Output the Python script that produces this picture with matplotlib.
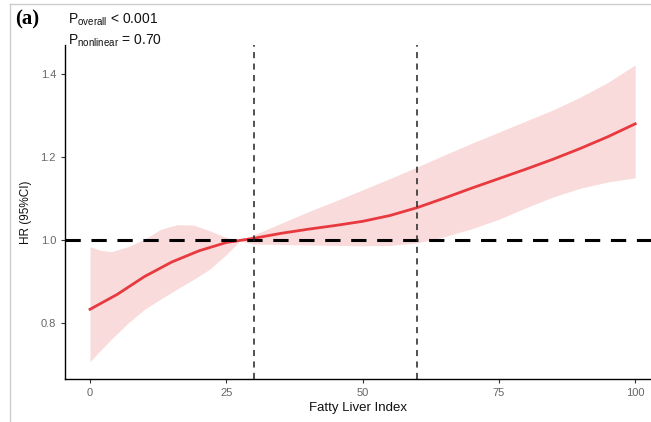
import matplotlib
matplotlib.use("Agg")
from matplotlib import pyplot as plt
from matplotlib.lines import Line2D
import numpy as np

plt.rcParams["font.family"] = ["Liberation Sans", "DejaVu Sans"]
plt.rcParams["mathtext.fontset"] = "custom"
plt.rcParams["mathtext.rm"] = "Liberation Sans"

# spline estimate of HR across the Fatty Liver Index
fli = [0, 5, 10, 15, 20, 25, 30, 35, 40, 45, 50, 55, 60, 65, 70, 75, 80, 85, 90, 95, 100]
hr = [0.833, 0.869, 0.912, 0.947, 0.974, 0.994, 1.004, 1.016, 1.026, 1.035, 1.045,
      1.059, 1.078, 1.101, 1.125, 1.148, 1.171, 1.195, 1.221, 1.249, 1.280]

# 95% CI band
ci_x = [0, 2, 4, 7, 10, 13, 16, 19, 22, 25, 27.5, 30, 35, 40, 45, 50, 55, 60, 65,
        70, 75, 80, 85, 90, 95, 100]
ci_upper = [0.984, 0.975, 0.972, 0.984, 1.002, 1.026, 1.037, 1.036, 1.022, 1.006, 1.0,
            1.012, 1.040, 1.068, 1.094, 1.121, 1.148, 1.176, 1.205, 1.233, 1.260,
            1.287, 1.314, 1.345, 1.380, 1.422]
ci_lower = [0.707, 0.735, 0.762, 0.800, 0.833, 0.858, 0.882, 0.905, 0.930, 0.965, 0.998,
            0.990, 0.989, 0.988, 0.987, 0.986, 0.987, 0.993, 1.008, 1.027, 1.050,
            1.078, 1.104, 1.125, 1.140, 1.150]

cutpoints = [30, 60]
yticks = [0.8, 1.0, 1.2, 1.4]
xticks = [0, 25, 50, 75, 100]

fig = plt.figure(figsize=(6.51, 4.22), dpi=100)
ax = fig.add_axes([65 / 651, 43 / 422, 1 - 65 / 651, (379 - 45) / 422])

ax.fill_between(ci_x, ci_lower, ci_upper, color="#fadbdc", linewidth=0)
ax.plot(fli, hr, color="#e8393f", linewidth=2)
ax.axhline(1.0, color="black", linestyle=(0, (5, 3.5)), linewidth=2.2)
for c in cutpoints:
    ax.axvline(c, color="#222222", linestyle=(0, (4, 3.5)), linewidth=1.1)

ax.set_xlim(-4.59, 102.9)
ax.set_ylim(0.665, 1.47)
ax.set_xticks(xticks)
ax.set_yticks(yticks)
ax.set_xticklabels([str(t) for t in xticks])
ax.set_yticklabels([f"{t:.1f}" for t in yticks])
ax.tick_params(axis="both", colors="#333333", labelcolor="#666666", labelsize=8,
               length=3, width=0.8)

for s in ["top", "right"]:
    ax.spines[s].set_visible(False)
for s in ["left", "bottom"]:
    ax.spines[s].set_linewidth(1.0)
    ax.spines[s].set_color("black")

ax.set_xlabel("Fatty Liver Index", fontsize=9.5, color="#111111", labelpad=3)
ax.set_ylabel("HR (95%CI)", fontsize=8.5, color="#111111", labelpad=6)

fig.text(15 / 651, 1 - 24 / 422, "(a)", fontsize=15, fontweight="bold",
         family="Liberation Serif", va="baseline")
fig.text(68 / 651, 1 - 24 / 422, r"P$_{\mathregular{overall}}$ < 0.001", fontsize=10,
         va="baseline", color="#111111")
fig.text(68 / 651, 1 - 45 / 422, r"P$_{\mathregular{nonlinear}}$ = 0.70", fontsize=10,
         va="baseline", color="#111111")

# light frame of the screenshot
fig.add_artist(Line2D([10 / 651, 10 / 651], [0, 1 - 4 / 422], transform=fig.transFigure,
                      color="#cccccc", linewidth=1))
fig.add_artist(Line2D([10 / 651, 1], [1 - 4 / 422, 1 - 4 / 422], transform=fig.transFigure,
                      color="#cccccc", linewidth=1))

fig.savefig("out.png", dpi=100)
